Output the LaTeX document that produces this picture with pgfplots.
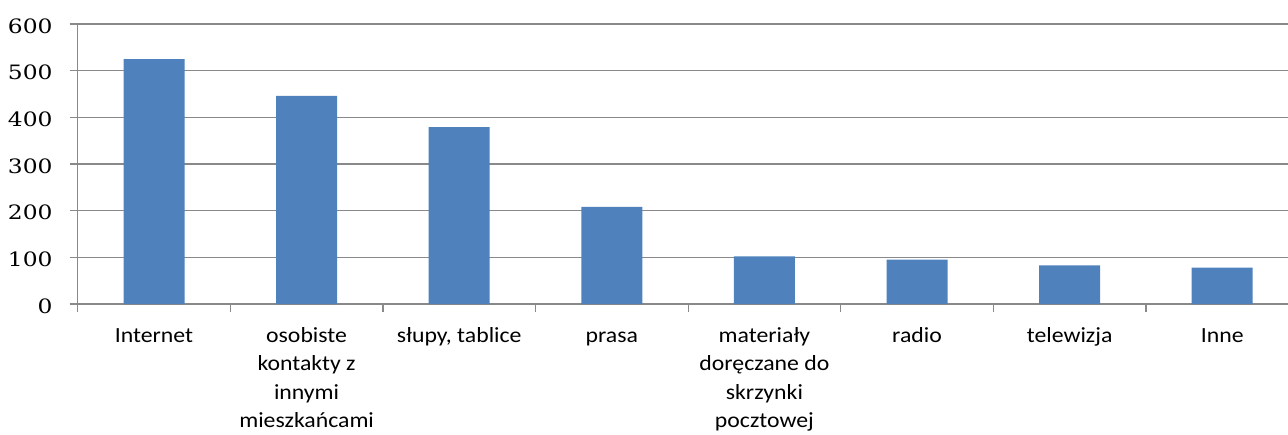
\documentclass[border=0pt]{standalone}
\usepackage{fontspec}
\setmainfont{Carlito}[FakeStretch=1.1]
\newfontfamily\tickfont{DejaVu Serif}[FakeStretch=1.18]
\usepackage{pgfplots}
\pgfplotsset{compat=1.18}
\definecolor{barblue}{HTML}{4F81BD}
\definecolor{gridgray}{HTML}{898989}
\begin{document}
\begin{tikzpicture}
\begin{axis}[
  at={(0,0)}, anchor=south west,
  scale only axis, width=1210.3pt, height=280pt,
  xmin=-0.5, xmax=7.431, ymin=0, ymax=600,
  ytick={0,100,...,600},
  xtick={-0.5,0.5,...,6.5},
  xticklabels={},
  extra x ticks={0,1,2,3,4,5,6,7},
  extra x tick labels={
    \strut Internet,
    {\strut osobiste\\kontakty z\\innymi\\mieszkańcami},
    {\strut słupy, tablice},
    \strut prasa,
    {\strut materiały\\doręczane do\\skrzynki\\pocztowej},
    \strut radio,
    \strut telewizja,
    \strut Inne},
  extra x tick style={major tick length=0pt, grid=none},
  axis x line*=bottom, axis y line*=left,
  axis line style={draw=gridgray, line width=1.2pt, -},
  ymajorgrids, grid style={draw=gridgray, line width=1.2pt},
  tick style={draw=gridgray, line width=1.2pt},
  tick align=outside,
  major tick length=8pt,
  /pgf/number format/assume math mode=true,
  yticklabel style={font=\tickfont\fontsize{19.8}{24}\selectfont, anchor=east, inner sep=0pt, xshift=-17pt, yshift=-2pt},
  xticklabel style={font=\fontsize{21.6}{28.3}\selectfont, align=center, anchor=north, inner sep=0pt, yshift=-18.6pt},
  ybar, bar width=61pt,
]
\addplot[fill=barblue, draw=none] coordinates {(0,525) (1,446) (2,379) (3,208) (4,102) (5,95) (6,83) (7,78)};
\end{axis}
\pgfresetboundingbox
\path[use as bounding box] (-77.7pt,-130pt) rectangle (1210.3pt,304pt);
\end{tikzpicture}
\end{document}
